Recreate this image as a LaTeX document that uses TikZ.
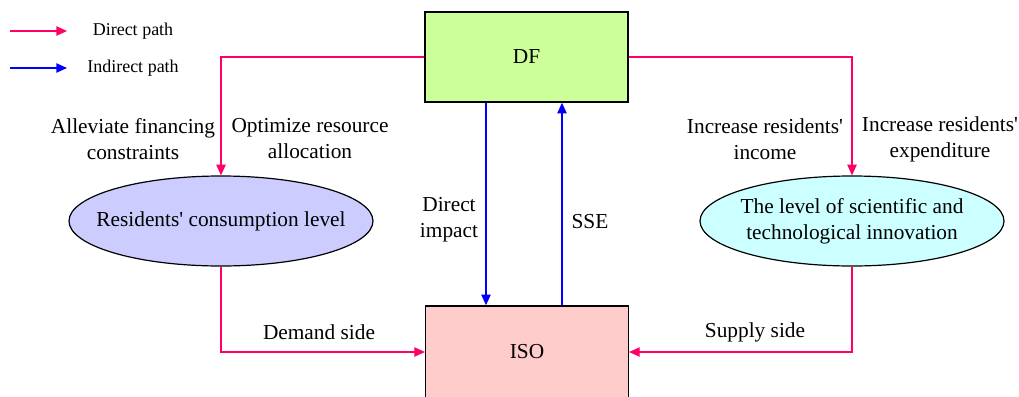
\documentclass[tikz,border=0pt]{standalone}
\usepackage{fontspec}
\setmainfont{Liberation Serif}[Ligatures=TeXOff]
\usetikzlibrary{arrows.meta,shapes.geometric}
\definecolor{dred}{HTML}{FF0066}
\definecolor{iblue}{HTML}{0000FF}
\definecolor{dfgreen}{HTML}{CCFF99}
\definecolor{isopink}{HTML}{FFCCCC}
\definecolor{lavblue}{HTML}{CCCCFF}
\definecolor{lcyan}{HTML}{CCFFFF}
\tikzset{
  box/.style={draw=black, line width=1.1pt, minimum width=152pt, minimum height=67.5pt, inner sep=0pt},
  ell/.style={ellipse, draw=black, line width=0.9pt, minimum width=228pt, minimum height=67.5pt, inner sep=0pt},
  redarr/.style={draw=dred, line width=1pt, -{Triangle[length=8pt,width=7pt]}},
  bluearr/.style={draw=iblue, line width=1pt, -{Triangle[length=8pt,width=7pt]}},
  lbl/.style={align=center, inner sep=0pt},
  leg/.style={inner sep=0pt, font=\fontsize{13.5}{16}\selectfont},
}
\begin{document}
\begin{tikzpicture}[x=0.75pt,y=-0.75pt, font=\fontsize{16}{19.5}\selectfont]
\useasboundingbox (0,0) rectangle (1019,396);
% nodes
\node[box, fill=dfgreen] (DF) at (526.5,57) {DF};
\node[box, fill=isopink, minimum height=69pt] (ISO) at (527,352) {ISO};
\node[ell, fill=lavblue, label={[lbl]center:Residents' consumption level}] (RC) at (221,221) {};
\node[ell, fill=lcyan, label={[lbl]center:The level of scientific and\\technological innovation}] (ST) at (852,221) {};
% red paths
\draw[redarr] (DF.west) -| (RC.north);
\draw[redarr] (DF.east) -| (ST.north);
\draw[redarr] (RC.south) |- (ISO.west);
\draw[redarr] (ST.south) |- (ISO.east);
% blue paths
\coordinate (bx1) at (486,0);
\coordinate (bx2) at (562,0);
\draw[bluearr] (DF.south -| bx1) -- (ISO.north -| bx1);
\draw[bluearr] (ISO.north -| bx2) -- (DF.south -| bx2);
% labels
\node[lbl] (l1) at (133,139) {Alleviate financing\\constraints};
\node[lbl] (l2) at (310,139) {Optimize resource\\allocation};
\node[lbl] (l3) at (765,139) {Increase residents'\\income};
\node[lbl] (l4) at (940,139) {Increase residents'\\expenditure};
\node[lbl] (l5) at (449,220) {Direct\\impact};
\node[lbl] (l6) at (590,222) {SSE};
\node[lbl] (l7) at (319,332) {Demand side};
\node[lbl] (l8) at (755,332) {Supply side};
% legend
\coordinate (la1) at (10,31);
\coordinate (la2) at (67,31);
\coordinate (lb1) at (10,68);
\coordinate (lb2) at (67,68);
\draw[redarr] (la1) -- (la2);
\draw[bluearr] (lb1) -- (lb2);
\node[leg] (lt1) at (133,31) {Direct path};
\node[leg] (lt2) at (133,68) {Indirect path};
\end{tikzpicture}
\end{document}
